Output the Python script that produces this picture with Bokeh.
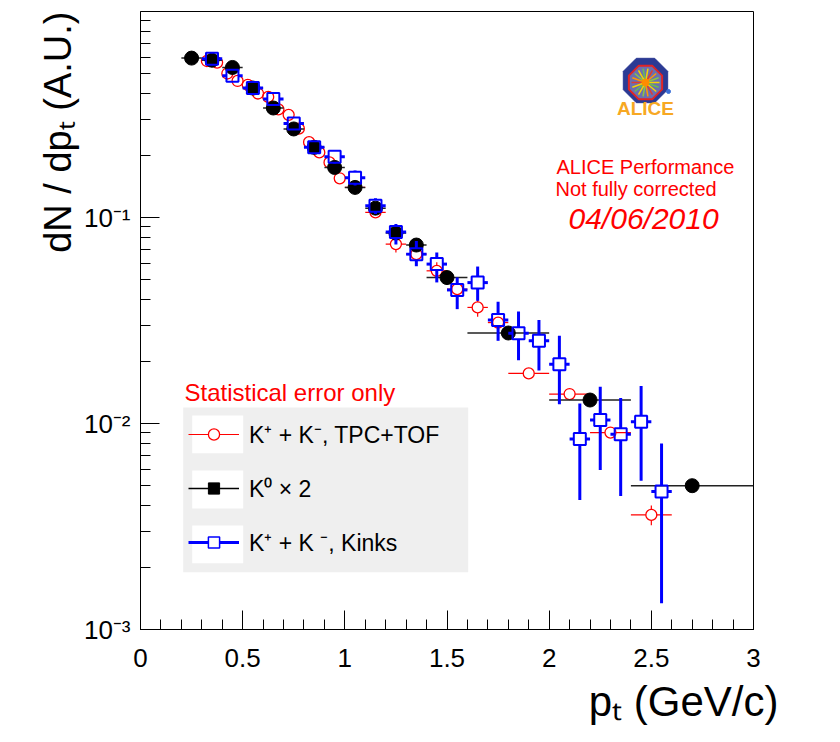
import numpy as np
from bokeh.plotting import figure
from bokeh.models import (Label, Legend, LegendItem, ColumnDataSource, SingleIntervalTicker,
                          FixedTicker, CustomJSTickFormatter, Range1d, Title)
from bokeh.embed import file_html
from bokeh.resources import INLINE

# ---------------- data ----------------
# K0 x 2 (black filled circles)
k0_pt = [0.25, 0.35, 0.45, 0.55, 0.65, 0.75, 0.85, 0.95, 1.05, 1.15, 1.25, 1.35, 1.5, 1.8, 2.2, 2.7]
k0_pt_lo = [0.2, 0.3, 0.4, 0.5, 0.6, 0.7, 0.8, 0.9, 1.0, 1.1, 1.2, 1.3, 1.4, 1.6, 2.0, 2.4]
k0_pt_hi = [0.3, 0.4, 0.5, 0.6, 0.7, 0.8, 0.9, 1.0, 1.1, 1.2, 1.3, 1.4, 1.6, 2.0, 2.4, 3.0]
k0_y = [0.594, 0.580, 0.535, 0.425, 0.340, 0.269, 0.219, 0.175, 0.140, 0.111, 0.084, 0.0735,
        0.0511, 0.0275, 0.0130, 0.00499]
k0_rel_err = [0.06, 0.06, 0.07, 0.05, 0.06, 0.05, 0.05, 0.05, 0.05, 0.05, 0.06, 0.07,
              0.04, 0.04, 0.04, 0.04]

# K+ + K-, TPC+TOF (red open circles)
tpc_pt = [0.325, 0.375, 0.425, 0.475, 0.525, 0.575, 0.625, 0.675, 0.725, 0.775, 0.825, 0.875,
          0.925, 0.975, 1.05, 1.15, 1.25, 1.35, 1.45, 1.55, 1.65, 1.75, 1.9, 2.1, 2.3, 2.5]
tpc_pt_lo = [0.3, 0.35, 0.4, 0.45, 0.5, 0.55, 0.6, 0.65, 0.7, 0.75, 0.8, 0.85, 0.9, 0.95,
             1.0, 1.1, 1.2, 1.3, 1.4, 1.5, 1.6, 1.7, 1.8, 2.0, 2.2, 2.4]
tpc_pt_hi = [0.35, 0.4, 0.45, 0.5, 0.55, 0.6, 0.65, 0.7, 0.75, 0.8, 0.85, 0.9, 0.95, 1.0,
             1.1, 1.2, 1.3, 1.4, 1.5, 1.6, 1.7, 1.8, 2.0, 2.2, 2.4, 2.6]
tpc_y = [0.575, 0.565, 0.50, 0.46, 0.44, 0.40, 0.385, 0.335, 0.315, 0.27, 0.232, 0.207,
         0.185, 0.155, 0.14, 0.106, 0.0743, 0.0664, 0.0551, 0.0449, 0.0366, 0.0309,
         0.0175, 0.0139, 0.00904, 0.00360]
tpc_rel_err = [0.02, 0.02, 0.02, 0.02, 0.02, 0.02, 0.02, 0.02, 0.02, 0.02, 0.02, 0.02,
               0.02, 0.02, 0.03, 0.06, 0.09, 0.09, 0.10, 0.10, 0.10, 0.06, 0.05, 0.05,
               0.05, 0.11]

# K+ + K-, Kinks (blue open squares)
kink_pt = [0.35, 0.45, 0.55, 0.65, 0.75, 0.85, 0.95, 1.05, 1.15, 1.25, 1.35, 1.45, 1.55,
           1.65, 1.75, 1.85, 1.95, 2.05, 2.15, 2.25, 2.35, 2.45, 2.55]
kink_y = [0.59, 0.487, 0.425, 0.376, 0.286, 0.219, 0.197, 0.156, 0.114, 0.085, 0.0664,
          0.0594, 0.0445, 0.0483, 0.0318, 0.0274, 0.0252, 0.0194, 0.0084, 0.0104, 0.00888,
          0.0102, 0.00468]
kink_y_lo = [0.57, 0.47, 0.405, 0.355, 0.27, 0.205, 0.183, 0.143, 0.104, 0.074, 0.058,
             0.0484, 0.0359, 0.0394, 0.0252, 0.0203, 0.0181, 0.0124, 0.00425, 0.00594,
             0.00445, 0.00527, 0.00134]
kink_y_hi = [0.61, 0.505, 0.445, 0.395, 0.30, 0.232, 0.211, 0.169, 0.124, 0.093, 0.077,
             0.0676, 0.0512, 0.0578, 0.039, 0.035, 0.0318, 0.0267, 0.0125, 0.0151, 0.0133,
             0.0152, 0.0080]
kink_pt_halfwidth = 0.05

y_major_ticks = [1e-3, 1e-2, 1e-1]
y_minor_ticks = [m * 10.0 ** e for e in (-3, -2, -1) for m in range(2, 10)]

legend_labels = ["K\u207a + K\u207b, TPC+TOF", "K\u2070 \u00d7 2", "K\u207a + K \u207b, Kinks"]
x_title = "p\u209c (GeV/c)"
y_title = "dN / dp\u209c (A.U.)"

# ---------------- layout ----------------
W, H = 840, 742
FL, FR, FT, FB = 140, 753, 11, 629
XMIN, XMAX = 0.0, 3.0
YMIN, YMAX = 1e-3, 1.0
PX_PER_X = (FR - FL) / (XMAX - XMIN)
PX_PER_DEC = (FB - FT) / (np.log10(YMAX) - np.log10(YMIN))


def px_x(px):
    return XMIN + (px - FL) / PX_PER_X


def px_y(py):
    return 10 ** (np.log10(YMAX) - (py - FT) / PX_PER_DEC)


FONT = "Liberation Sans"

p = figure(width=W, height=H, x_range=Range1d(XMIN, XMAX), y_range=Range1d(YMIN, YMAX),
           y_axis_type="log", output_backend="svg", toolbar_location=None,
           min_border_left=FL, min_border_right=W - FR, min_border_top=FT,
           min_border_bottom=H - FB)
p.xgrid.visible = False
p.ygrid.visible = False
p.outline_line_color = "black"
p.outline_line_width = 1
p.background_fill_color = "white"
p.border_fill_color = "white"

p.xaxis.ticker = SingleIntervalTicker(interval=0.5, num_minor_ticks=5)
p.xaxis.formatter = CustomJSTickFormatter(code="return String(Math.round(tick*10)/10);")
p.yaxis.ticker = FixedTicker(ticks=y_major_ticks, minor_ticks=y_minor_ticks)
p.yaxis.formatter = CustomJSTickFormatter(code="""
const e = Math.round(Math.log10(tick));
const m = {"-":"\u207b","0":"\u2070","1":"\u00b9","2":"\u00b2","3":"\u00b3"};
return "10" + String(e).split("").map(c => m[c]).join("");
""")
for ax in (p.xaxis[0], p.yaxis[0]):
    ax.major_tick_in = 19
    ax.major_tick_out = 0
    ax.minor_tick_in = 10
    ax.minor_tick_out = 0
    ax.axis_line_color = "black"
    ax.major_tick_line_color = "black"
    ax.minor_tick_line_color = "black"
    ax.major_label_text_font = FONT
    ax.major_label_text_font_size = "26px"
    ax.major_label_text_color = "black"
p.xaxis.major_label_standoff = 19
p.yaxis.major_label_standoff = 10

# axis titles as side-panel titles (right / top aligned like the reference)
p.add_layout(Title(text=x_title, align="right", offset=-25, standoff=13, text_font=FONT,
                   text_font_size="42px", text_font_style="normal", text_color="black"),
             "below")
p.add_layout(Title(text=y_title, align="right", offset=0, standoff=4, text_font=FONT,
                   text_font_size="38px", text_font_style="normal", text_color="black"),
             "left")


def vbars(x, y, lo, hi, gap_px):
    g = 10 ** (gap_px / PX_PER_DEC)
    x0, y0, x1, y1 = [], [], [], []
    for xi, yi, l, h in zip(x, y, lo, hi):
        if l < yi / g:
            x0.append(xi); y0.append(l); x1.append(xi); y1.append(yi / g)
        if h > yi * g:
            x0.append(xi); y0.append(yi * g); x1.append(xi); y1.append(h)
    return dict(x0=x0, y0=y0, x1=x1, y1=y1)


def hbars(x, y, xl, xh, gap_px):
    g = gap_px / PX_PER_X
    x0, y0, x1, y1 = [], [], [], []
    for xi, yi, l, h in zip(x, y, xl, xh):
        if l < xi - g:
            x0.append(l); y0.append(yi); x1.append(xi - g); y1.append(yi)
        if h > xi + g:
            x0.append(xi + g); y0.append(yi); x1.append(h); y1.append(yi)
    return dict(x0=x0, y0=y0, x1=x1, y1=y1)


# ---------------- legend background boxes (drawn under everything) ----------------
p.quad(left=[px_x(182.7)], right=[px_x(467.7)], top=[px_y(407)], bottom=[px_y(571.7)],
       fill_color="#efefef", line_color=None)
p.quad(left=[px_x(191.7)] * 3, right=[px_x(242.7)] * 3,
       top=[px_y(415), px_y(470), px_y(525)], bottom=[px_y(452.7), px_y(508), px_y(562.7)],
       fill_color="white", line_color=None)

# red TPC+TOF
tpc_lo = [y * (1 - e) for y, e in zip(tpc_y, tpc_rel_err)]
tpc_hi = [y * (1 + e) for y, e in zip(tpc_y, tpc_rel_err)]
p.segment(x0="x0", y0="y0", x1="x1", y1="y1",
          source=ColumnDataSource(hbars(tpc_pt, tpc_y, tpc_pt_lo, tpc_pt_hi, 5.5)),
          line_color="red", line_width=1.2)
p.segment(x0="x0", y0="y0", x1="x1", y1="y1",
          source=ColumnDataSource(vbars(tpc_pt, tpc_y, tpc_lo, tpc_hi, 5.5)),
          line_color="red", line_width=1.2)
p.scatter(tpc_pt, tpc_y, marker="circle", size=11, line_color="red", line_width=1.3,
          fill_alpha=0)

# black K0
k0_lo = [y * (1 - e) for y, e in zip(k0_y, k0_rel_err)]
k0_hi = [y * (1 + e) for y, e in zip(k0_y, k0_rel_err)]
p.segment(x0=k0_pt_lo, y0=k0_y, x1=k0_pt_hi, y1=k0_y, line_color="#222222", line_width=1.5)
p.segment(x0=k0_pt, y0=k0_lo, x1=k0_pt, y1=k0_hi, line_color="#222222", line_width=1.5)
p.scatter(k0_pt, k0_y, marker="circle", size=14, color="black")

# blue kinks
kink_pt_lo = [x - kink_pt_halfwidth for x in kink_pt]
kink_pt_hi = [x + kink_pt_halfwidth for x in kink_pt]
p.segment(x0="x0", y0="y0", x1="x1", y1="y1",
          source=ColumnDataSource(hbars(kink_pt, kink_y, kink_pt_lo, kink_pt_hi, 6)),
          line_color="blue", line_width=3)
p.segment(x0="x0", y0="y0", x1="x1", y1="y1",
          source=ColumnDataSource(vbars(kink_pt, kink_y, kink_y_lo, kink_y_hi, 6)),
          line_color="blue", line_width=3)
p.scatter(kink_pt, kink_y, marker="square", size=12, line_color="blue", line_width=2,
          fill_alpha=0)

# ---------------- legend (proxy glyphs placed outside the visible range) ----------------
ox, oy = [-10.0], [1e-9]
l_red = p.line(ox, oy, line_color="red", line_width=1.2)
m_red = p.scatter(ox, oy, marker="circle", size=11, line_color="red", line_width=1.3,
                  fill_color="white")
l_blk = p.line(ox, oy, line_color="black", line_width=1.5)
m_blk = p.scatter(ox, oy, marker="square", size=10, color="black")
l_blu = p.line(ox, oy, line_color="blue", line_width=3)
m_blu = p.scatter(ox, oy, marker="square", size=11, line_color="blue", line_width=1.5,
                  fill_color="white")
legend = Legend(items=[
    LegendItem(label=legend_labels[0], renderers=[l_red, m_red]),
    LegendItem(label=legend_labels[1], renderers=[l_blk, m_blk]),
    LegendItem(label=legend_labels[2], renderers=[l_blu, m_blu]),
], location=(48, 71), background_fill_alpha=0, border_line_color=None, padding=4,
    spacing=22, glyph_width=51, glyph_height=28, label_standoff=10, margin=0,
    label_text_font=FONT, label_text_font_size="23px", label_text_color="black")
p.add_layout(legend)

# ---------------- texts ----------------
def lab(x, y, text, size, color="black", align="left", baseline="middle", style="normal"):
    p.add_layout(Label(x=px_x(x), y=px_y(y), text=text, text_font=FONT, text_font_size=size,
                       text_color=color, text_align=align, text_baseline=baseline,
                       text_font_style=style))


lab(184, 392, "Statistical error only", "24px", color="red")
lab(556, 166, "ALICE Performance", "20px", color="red")
lab(555, 188, "Not fully corrected", "20px", color="red")
lab(568, 218, "04/06/2010", "30px", color="red", style="italic")

# ---------------- ALICE logo ----------------
cx, cy = 645, 80
ang = np.deg2rad(22.5 + 45 * np.arange(8))
r_out, r_in = 24, 18
p.patch([px_x(cx + r_out * np.cos(a)) for a in ang], [px_y(cy - r_out * np.sin(a)) for a in ang],
        fill_color="#2b3a94", line_color="#2b3a94")
p.patch([px_x(cx + r_in * np.cos(a)) for a in ang], [px_y(cy + 2 - r_in * np.sin(a)) for a in ang],
        fill_color="#6b6fb0", line_color="#e02424", line_width=2)
ray_ang = np.deg2rad(np.arange(0, 360, 20))
ray_cols = ["#f5d400", "#8cc63f", "#ff9900", "#e03c31", "#f5d400", "#6cc04a"] * 3
p.segment(x0=[px_x(cx)] * len(ray_ang), y0=[px_y(cy + 2)] * len(ray_ang),
          x1=[px_x(cx + 14 * np.cos(a)) for a in ray_ang],
          y1=[px_y(cy + 2 - 14 * np.sin(a)) for a in ray_ang],
          line_color=ray_cols[:len(ray_ang)], line_width=1.5)
p.scatter([px_x(cx)], [px_y(cy + 2)], marker="circle", size=7, color="#ff8c00")
p.scatter([px_x(668)], [px_y(91)], marker="circle", size=4, color="#3a6fd8")
lab(645, 108, "ALICE", "19px", color="#f7a823", align="center", style="bold")

open("out.html", "w").write(file_html(p, INLINE))
